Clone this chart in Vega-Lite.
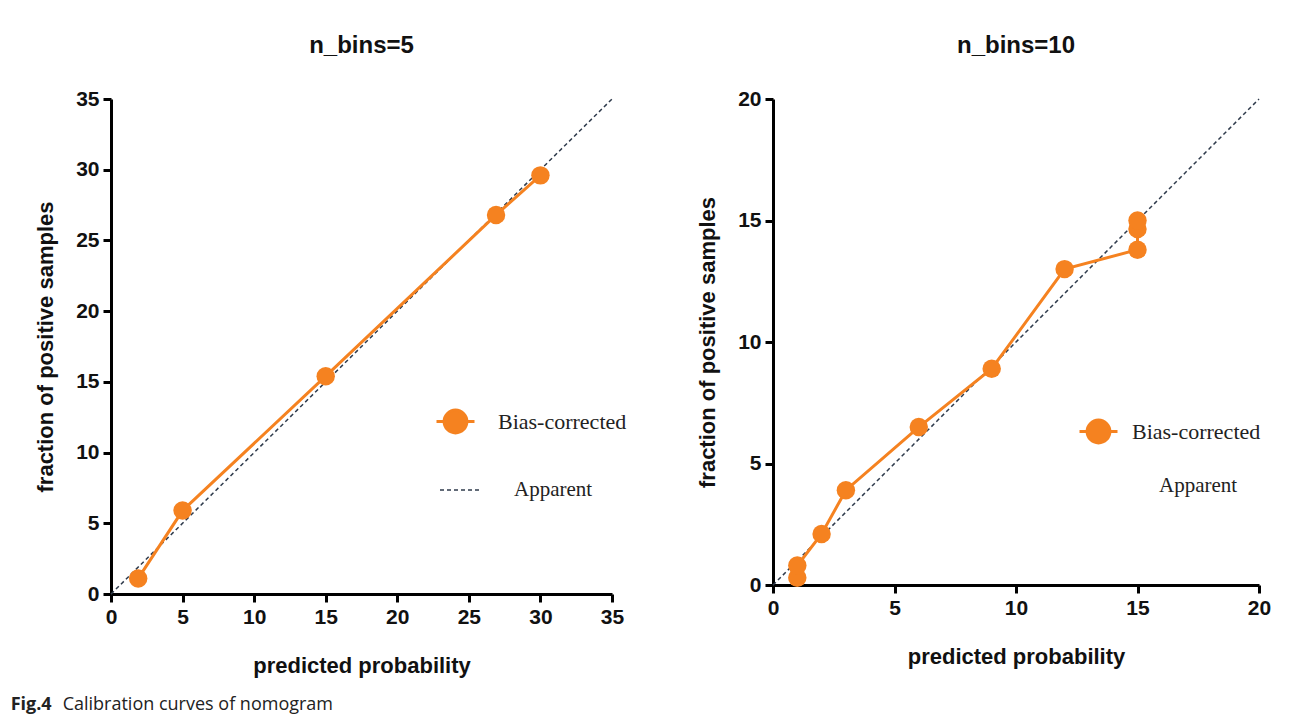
{
  "$schema": "https://vega.github.io/schema/vega-lite/v6.json",
  "background": "white",
  "padding": {"left": 10, "top": 34, "right": 10, "bottom": 8},
  "config": {
    "view": {"stroke": null},
    "font": "Liberation Sans",
    "axis": {
      "grid": false,
      "domainColor": "#000",
      "domainWidth": 3,
      "tickColor": "#000",
      "tickWidth": 3,
      "tickSize": 8,
      "labelFlush": false,
      "labelFont": "Liberation Sans",
      "labelFontWeight": "bold",
      "labelFontSize": 21,
      "labelColor": "#111",
      "labelPadding": 4,
      "titleFont": "Liberation Sans",
      "titleFontWeight": "bold",
      "titleFontSize": 22,
      "titleColor": "#111"
    },
    "axisX": {"titlePadding": 28},
    "axisY": {"titlePadding": 18},
    "title": {"font": "Liberation Sans", "fontSize": 24, "fontWeight": "bold", "color": "#111", "offset": 30, "anchor": "middle", "frame": "group"}
  },
  "title": {
    "text": "Fig.4",
    "orient": "bottom",
    "anchor": "start",
    "frame": "bounds",
    "font": "Open Sans",
    "fontSize": 18,
    "fontWeight": "bold",
    "color": "#222",
    "offset": -18,
    "dx": -24
  },
  "vconcat": [
    {
      "title": {
        "text": "Calibration curves of nomogram",
        "orient": "bottom",
        "anchor": "start",
        "frame": "bounds",
        "font": "Open Sans",
        "fontSize": 18,
        "fontWeight": "normal",
        "color": "#222",
        "offset": 20,
        "dx": 28
      },
      "spacing": 69,
      "resolve": {
        "scale": {"color": "independent", "strokeDash": "independent"},
        "legend": {"color": "independent", "strokeDash": "independent"}
      },
      "hconcat": [
        {
          "width": 501,
          "height": 495,
          "title": {"text": "n_bins=5"},
          "layer": [
            {
              "data": {"values": [
                {"x": 0, "y": 0, "series": "Apparent"},
                {"x": 35, "y": 35, "series": "Apparent"}
              ]},
              "mark": {"type": "line", "color": "#2f3b4c", "strokeWidth": 1.5},
              "encoding": {
                "x": {"field": "x", "type": "quantitative", "scale": {"domain": [0, 35]}, "axis": {"values": [0, 5, 10, 15, 20, 25, 30, 35], "title": "predicted probability"}},
                "y": {"field": "y", "type": "quantitative", "scale": {"domain": [0, 35]}, "axis": {"values": [0, 5, 10, 15, 20, 25, 30, 35], "title": "fraction of positive samples"}},
                "strokeDash": {
                  "field": "series", "type": "nominal",
                  "scale": {"domain": ["Apparent"], "range": [[4, 3]]},
                  "legend": {
                    "title": null, "orient": "none", "legendX": 328, "legendY": 370,
                    "symbolType": "stroke", "symbolSize": 1600, "symbolStrokeWidth": 1.5, "symbolStrokeColor": "#2f3b4c",
                    "labelFont": "Liberation Serif", "labelFontSize": 21, "labelColor": "#222", "labelOffset": 33
                  }
                }
              }
            },
            {
              "data": {"values": [
                {"i": 1, "x": 1.9, "y": 1.1, "series": "Bias-corrected"},
                {"i": 2, "x": 5, "y": 5.9, "series": "Bias-corrected"},
                {"i": 3, "x": 15, "y": 15.4, "series": "Bias-corrected"},
                {"i": 4, "x": 26.9, "y": 26.8, "series": "Bias-corrected"},
                {"i": 5, "x": 30, "y": 29.6, "series": "Bias-corrected"}
              ]},
              "mark": {"type": "line", "strokeWidth": 3, "point": {"filled": true, "size": 340}},
              "encoding": {
                "x": {"field": "x", "type": "quantitative"},
                "y": {"field": "y", "type": "quantitative"},
                "order": {"field": "i", "type": "quantitative"},
                "color": {
                  "field": "series", "type": "nominal",
                  "scale": {"domain": ["Bias-corrected"], "range": ["#f58220"]},
                  "legend": {
                    "title": null, "orient": "none", "legendX": 324, "legendY": 302,
                    "symbolType": "M-1,0L1,0M0.6,0C0.6,0.331 0.331,0.6 0,0.6C-0.331,0.6 -0.6,0.331 -0.6,0C-0.6,-0.331 -0.331,-0.6 0,-0.6C0.331,-0.6 0.6,-0.331 0.6,0Z",
                    "symbolSize": 1444, "symbolFillColor": "#f58220", "symbolStrokeColor": "#f58220", "symbolStrokeWidth": 3,
                    "labelFont": "Liberation Serif", "labelFontSize": 22, "labelColor": "#222", "labelOffset": 22
                  }
                }
              }
            }
          ]
        },
        {
          "width": 486,
          "height": 486,
          "title": {"text": "n_bins=10"},
          "layer": [
            {
              "data": {"values": [
                {"x": 0, "y": 0, "series": "Apparent"},
                {"x": 20, "y": 20, "series": "Apparent"}
              ]},
              "mark": {"type": "line", "color": "#2f3b4c", "strokeWidth": 1.5},
              "encoding": {
                "x": {"field": "x", "type": "quantitative", "scale": {"domain": [0, 20]}, "axis": {"values": [0, 5, 10, 15, 20], "title": "predicted probability"}},
                "y": {"field": "y", "type": "quantitative", "scale": {"domain": [0, 20]}, "axis": {"values": [0, 5, 10, 15, 20], "title": "fraction of positive samples"}},
                "strokeDash": {
                  "field": "series", "type": "nominal",
                  "scale": {"domain": ["Apparent"], "range": [[4, 3]]},
                  "legend": {
                    "title": null, "orient": "none", "legendX": 344, "legendY": 366,
                    "symbolType": "stroke", "symbolSize": 1600, "symbolStrokeWidth": 1.5, "symbolOpacity": 0,
                    "labelFont": "Liberation Serif", "labelFontSize": 21, "labelColor": "#222", "labelOffset": 0
                  }
                }
              }
            },
            {
              "data": {"values": [
                {"i": 1, "x": 1, "y": 0.3, "series": "Bias-corrected"},
                {"i": 2, "x": 1, "y": 0.8, "series": "Bias-corrected"},
                {"i": 3, "x": 2, "y": 2.1, "series": "Bias-corrected"},
                {"i": 4, "x": 3, "y": 3.9, "series": "Bias-corrected"},
                {"i": 5, "x": 6, "y": 6.5, "series": "Bias-corrected"},
                {"i": 6, "x": 9, "y": 8.9, "series": "Bias-corrected"},
                {"i": 7, "x": 12, "y": 13.0, "series": "Bias-corrected"},
                {"i": 8, "x": 15, "y": 13.8, "series": "Bias-corrected"},
                {"i": 9, "x": 15, "y": 14.65, "series": "Bias-corrected"},
                {"i": 10, "x": 15, "y": 15.0, "series": "Bias-corrected"}
              ]},
              "mark": {"type": "line", "strokeWidth": 3, "point": {"filled": true, "size": 340}},
              "encoding": {
                "x": {"field": "x", "type": "quantitative"},
                "y": {"field": "y", "type": "quantitative"},
                "order": {"field": "i", "type": "quantitative"},
                "color": {
                  "field": "series", "type": "nominal",
                  "scale": {"domain": ["Bias-corrected"], "range": ["#f58220"]},
                  "legend": {
                    "title": null, "orient": "none", "legendX": 305, "legendY": 312,
                    "symbolType": "M-1,0L1,0M0.6,0C0.6,0.331 0.331,0.6 0,0.6C-0.331,0.6 -0.6,0.331 -0.6,0C-0.6,-0.331 -0.331,-0.6 0,-0.6C0.331,-0.6 0.6,-0.331 0.6,0Z",
                    "symbolSize": 1444, "symbolFillColor": "#f58220", "symbolStrokeColor": "#f58220", "symbolStrokeWidth": 3,
                    "labelFont": "Liberation Serif", "labelFontSize": 22, "labelColor": "#222", "labelOffset": 13
                  }
                }
              }
            }
          ]
        }
      ]
    }
  ]
}
